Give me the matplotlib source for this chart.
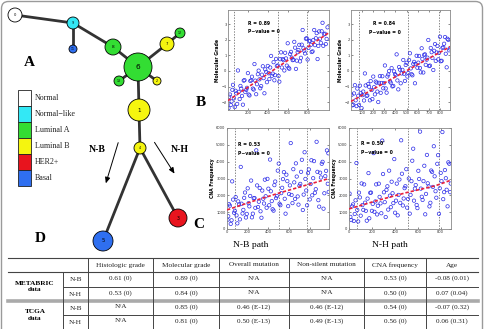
import numpy as np
import matplotlib.pyplot as plt
from matplotlib.patches import Circle, Rectangle, FancyBboxPatch

# ---- data ----
subtypes = ["Normal", "Normal\u2212like", "Luminal A", "Luminal B", "HER2+", "Basal"]
subtype_colors = ["#ffffff", "#33e8f5", "#33dd33", "#f5f50f", "#e8141e", "#2f6ff0"]

# panel B left (N-B path, molecular grade)
bl_x = [5, 20, 36, 50, 68, 84, 100, 117, 133, 150, 166, 183, 200, 216, 233, 250, 266, 283, 300, 316,
        333, 350, 366, 383, 400, 416, 433, 450, 466, 483, 500, 516, 533, 550, 566, 583, 600, 616, 633, 650,
        666, 683, 700, 716, 733, 750, 766, 783, 800, 816, 833, 850, 866, 883, 900, 916, 933, 950, 966, 983, 1000,
        12, 28, 44, 59, 76, 92, 108, 125, 141, 158, 174, 191, 208, 224, 241, 258, 274, 291, 308, 324,
        341, 358, 374, 391, 408, 424, 441, 458, 474, 491, 508, 524, 541, 558, 574, 591, 608, 624, 641, 658,
        674, 691, 708, 724, 741, 758, 774, 791, 808, 824, 841, 858, 874, 891, 908, 924, 941, 958, 974, 991]
bl_y = [-2.38, -1.51, -1.95, -0.89, -2.31, -1.44, 0.03, -1.80, -1.13, -2.16, -0.59, -1.21, -0.14, -1.57, -0.60,
        -1.13, 0.44, -1.49, -0.21, -0.54, -0.97, 0.30, -1.43, -0.06, 0.32, -0.52, 0.96, -0.17, -0.60, 0.77,
        0.35, -0.69, 1.19, 0.76, 0.03, 0.80, 1.77, 0.14, 1.22, 0.69, 1.86, 0.13, 1.20, 1.67, 0.84, 2.62,
        1.29, 2.06, 0.73, 1.90, 1.67, 1.25, 2.62, 2.09, 0.76, 2.53, 1.80, 3.08, 2.34, 1.72, 2.79,
        -1.65, -2.18, -1.21, -1.75, -1.27, -2.11, -1.34, -0.96, -1.60, -0.62, -1.35, -1.08, -1.51, -0.64,
        -0.37, -1.19, -0.62, -0.85, 0.02, -1.11, -0.24, -0.46, 0.10, -0.72, -0.15, 0.22, -0.31, 0.56, -0.27,
        0.31, -0.32, 0.75, 0.22, 0.69, 1.16, 0.34, 0.21, 1.08, 0.85, 0.72, 1.49, 0.66, 1.34, 0.61, 1.68,
        1.45, 1.12, 2.09, 1.47, 1.93, 1.21, 1.98, 1.65, 2.42, 1.60, 2.06, 2.54, 1.61, 2.38, 2.05]
bl_fit_x = [0, 1015]
bl_fit_y = [-1.9, 2.45]

# panel B right (N-H path, molecular grade)
br_x = [5, 20, 35, 50, 65, 80, 95, 110, 125, 140, 155, 170, 185, 200, 215, 230, 245, 260, 275, 290,
        305, 320, 335, 350, 365, 380, 395, 410, 425, 440, 455, 470, 485, 500, 515, 530, 545, 560, 575, 590,
        605, 620, 635, 650, 665, 680, 695, 710, 725, 740, 755, 770, 785, 800, 815, 830, 845, 860, 875, 888,
        12, 27, 42, 57, 72, 87, 102, 117, 132, 147, 162, 177, 192, 207, 222, 237, 252, 267, 282, 297,
        312, 327, 342, 357, 372, 387, 402, 417, 432, 447, 462, 477, 492, 507, 522, 537, 552, 567, 582, 597,
        612, 627, 642, 657, 672, 687, 702, 717, 732, 747, 762, 777, 792, 807, 822, 837, 852, 867, 882]
br_y = [-1.53, -2.17, -0.91, -2.25, -1.59, -0.94, -2.38, -1.32, -0.16, -1.60, -0.84, -1.88, -1.22, -0.36, -1.50,
        -0.75, -1.99, -0.33, -0.77, -1.11, 0.35, -1.39, -0.23, -0.67, 0.18, -0.96, -0.20, 1.06, -1.18, 0.08,
        -0.16, 0.70, -0.64, 0.52, -0.13, 1.13, -0.21, 0.45, -0.79, 0.97, 0.53, 0.19, 1.45, -0.10, 1.06,
        0.72, 1.98, 0.34, 1.20, 0.06, 1.72, 1.18, 0.74, 2.19, 0.65, 1.51, 2.17, 0.23, 1.99, 1.44,
        -2.20, -1.44, -1.88, -1.13, -2.17, -1.41, -1.55, -1.89, -0.93, -1.57, -1.01, -0.65, -1.80, -1.04,
        -0.68, -1.32, -0.76, -1.40, -0.34, -0.78, -1.12, -0.36, -0.01, -0.75, -0.99, -0.03, -0.27, -0.61,
        0.25, -0.79, 0.07, -0.18, 0.38, -0.36, 0.70, 0.16, -0.28, 0.58, 0.44, 0.20, 0.96, -0.09, 0.77,
        1.03, 0.39, 0.85, 0.31, 1.47, 0.83, 1.29, 0.64, 1.60, 1.16, 0.62, 1.48, 1.74, 1.10, 2.06, 1.32]
br_fit_x = [0, 890]
br_fit_y = [-1.95, 1.55]

# panel C left (N-B path, CNA frequency)
cl_x = [5, 20, 36, 50, 68, 84, 100, 117, 133, 150, 166, 183, 200, 216, 233, 250, 266, 283, 300, 316,
        333, 350, 366, 383, 400, 416, 433, 450, 466, 483, 500, 516, 533, 550, 566, 583, 600, 616, 633, 650,
        666, 683, 700, 716, 733, 750, 766, 783, 800, 816, 833, 850, 866, 883, 900, 916, 933, 950, 966, 983,
        12, 28, 44, 59, 76, 92, 108, 125, 141, 158, 174, 191, 208, 224, 241, 258, 274, 291, 308, 324,
        341, 358, 374, 391, 408, 424, 441, 458, 474, 491, 508, 524, 541, 558, 574, 591, 608, 624, 641, 658,
        674, 691, 708, 724, 741, 758, 774, 791, 808, 824, 841, 858, 874, 891, 908, 924, 941, 958, 974, 980]
cl_y = [545, 1473, 303, 2830, 964, 1895, 335, 1457, 3688, 920, 1850, 683, 2415, 1345, 2878, 910, 1840, 4673,
        1305, 2435, 668, 1800, 2930, 1263, 2395, 4125, 1658, 1090, 2820, 1953, 3885, 1415, 2448, 3380, 910,
        2843, 2075, 5105, 1538, 2770, 3900, 1933, 2565, 3395, 1128, 4560, 2290, 3323, 1755, 4085, 3018, 2150,
        5180, 1713, 3345, 3875, 1208, 3140, 4670, 2203,
        758, 1388, 519, 1747, 1079, 810, 1640, 573, 1503, 1135, 2166, 898, 1530, 1961, 693, 1825, 1256, 2588,
        1620, 1051, 2283, 1515, 1946, 2978, 1410, 2241, 1173, 2605, 1836, 3468, 1500, 2131, 2963, 1795, 3226,
        1358, 2590, 2021, 3553, 1785, 3116, 1448, 2680, 4111, 2043, 2975, 1406, 3538, 2670, 2001, 4033, 2365,
        3396, 1328, 3060, 3991, 2123, 3455, 2686, 4497]
cl_fit_x = [0, 250, 500, 750, 986]
cl_fit_y = [1135, 1650, 2130, 2580, 3000]

# panel C right (N-H path, CNA frequency)
cr_x = br_x
cr_y = [2105, 533, 1462, 891, 3920, 449, 1877, 2706, 1135, 1564, 493, 3321, 2150, 1079, 4508, 1637, 865, 2694,
        1523, 5252, 2181, 709, 2538, 3467, 1296, 2125, 4153, 1682, 811, 2940, 5269, 1397, 2426, 3555, 1784,
        913, 2841, 4770, 2399, 1428, 3457, 5785, 1914, 2843, 872, 4401, 2529, 1558, 3387, 4916, 2245, 3873,
        902, 3331, 5760, 2189, 3017, 1346, 3875, 2700,
        718, 1347, 476, 1704, 1133, 2162, 791, 1420, 2648, 1077, 1806, 635, 2164, 1492, 1021, 2650, 1379, 1908,
        936, 3265, 1594, 2323, 1152, 1980, 2809, 1538, 967, 2696, 2024, 1553, 3282, 1811, 2540, 1268, 2997,
        2026, 4055, 1684, 2612, 1241, 2970, 2399, 1728, 3756, 2085, 2714, 1343, 3472, 2500, 3129, 1858, 4387,
        2416, 2844, 1773, 3502, 2331, 3960, 2188]
cr_fit_x = [0, 250, 500, 750, 890]
cr_fit_y = [1195, 1700, 2160, 2560, 2900]

# table D
col_headers = ["Histologic grade", "Molecular grade", "Overall mutation",
               "Non-silent mutation", "CNA frequency", "Age"]
datasets = ["METABRIC\ndata", "TCGA\ndata"]
paths = ["N-B", "N-H"]
table_rows = [
    ["0.61 (0)", "0.89 (0)", "N/A", "N/A", "0.53 (0)", "-0.08 (0.01)"],
    ["0.53 (0)", "0.84 (0)", "N/A", "N/A", "0.50 (0)", "0.07 (0.04)"],
    ["N/A", "0.85 (0)", "0.46 (E-12)", "0.46 (E-12)", "0.54 (0)", "-0.07 (0.32)"],
    ["N/A", "0.81 (0)", "0.50 (E-13)", "0.49 (E-13)", "0.56 (0)", "0.06 (0.31)"],
]

# tree: node -> (x, y, radius, subtype index) in pixel layout
nodes = {
    0: (15, 15, 7, 0), 9: (73, 23, 6, 1), 11: (73, 49, 4, 5), 8: (113, 47, 8, 2),
    6: (138, 67, 14, 2), 7: (167, 44, 7, 3), 12: (180, 33, 5, 2), 13: (119, 81, 5, 2),
    2: (157, 81, 4, 3), 1: (139, 110, 11, 3), 4: (140, 148, 6, 3), 3: (178, 218, 9, 4),
    5: (103, 241, 10, 5),
}
edges = [(0, 9), (9, 11), (9, 8), (8, 6), (6, 7), (7, 12), (6, 13), (6, 2), (6, 1),
         (1, 4), (4, 3), (4, 5)]

serif = "Liberation Serif"
W, H = 484, 329
fig = plt.figure(figsize=(4.84, 3.29), dpi=100)
ax = fig.add_axes([0, 0, 1, 1])
ax.set_xlim(0, W)
ax.set_ylim(H, 0)
ax.axis("off")

ax.add_patch(FancyBboxPatch((1.5, 1.5), W - 3, H + 20, boxstyle="round,pad=0,rounding_size=7",
                            fc="none", ec="#9a9a9a", lw=1.0))

# tree
for a, b in edges:
    ax.plot([nodes[a][0], nodes[b][0]], [nodes[a][1], nodes[b][1]], color="#333333", lw=2.0, zorder=1)
for k, (x, y, r, c) in nodes.items():
    ax.add_patch(Circle((x, y), r, fc=subtype_colors[c], ec="black", lw=0.6, zorder=2))
    ax.text(x, y, str(k), ha="center", va="center", fontsize=max(2.3, r * 0.38), zorder=3)

ax.annotate("", xy=(105, 186), xytext=(119, 140),
            arrowprops=dict(arrowstyle="-|>,head_length=0.35,head_width=0.15", lw=0.7, color="black"))
ax.annotate("", xy=(176, 176), xytext=(153, 140),
            arrowprops=dict(arrowstyle="-|>,head_length=0.35,head_width=0.15", lw=0.7, color="black"))
ax.text(97, 149, "N-B", fontsize=7, fontweight="bold", family=serif, ha="center", va="center")
ax.text(180, 150, "N-H", fontsize=7, fontweight="bold", family=serif, ha="center", va="center")

# legend
for i, (name, col) in enumerate(zip(subtypes, subtype_colors)):
    ax.add_patch(Rectangle((18, 90 + 16 * i), 13, 16, fc=col, ec="#222222", lw=0.6))
    ax.text(35, 98 + 16 * i, name, fontsize=5.8, family=serif, va="center", color="#222222")

# panel letters
for letter, (x, y) in {"A": (29, 62), "B": (201, 103), "C": (199, 225), "D": (40, 239)}.items():
    ax.text(x, y, letter, fontsize=11, fontweight="bold", family=serif, ha="center", va="center")

ax.text(251, 245, "N-B path", fontsize=6.8, family=serif, ha="center", va="center")
ax.text(390, 245, "N-H path", fontsize=6.8, family=serif, ha="center", va="center")


def px_rect(x0, y0, x1, y1):
    return [x0 / W, 1 - y1 / H, (x1 - x0) / W, (y1 - y0) / H]


def scatter_panel(rect, xs, ys, fx, fy, xlim, ylim, xticks, yticks, vlines, ylabel, rtxt, tpos):
    a = fig.add_axes(rect)
    a.scatter(xs, ys, s=6, facecolors="none", edgecolors="#2b2be8", linewidths=0.5, zorder=2)
    a.plot(fx, fy, color="#e8203c", ls="--", lw=1.2, dashes=(2, 1.2), zorder=3)
    for v in vlines:
        a.axvline(v, color="#555555", lw=0.5, dashes=(2, 2), zorder=1)
    a.set_xlim(*xlim)
    a.set_ylim(*ylim)
    a.set_xticks(xticks)
    a.set_yticks(yticks)
    a.tick_params(direction="in", length=1.5, width=0.4, labelsize=2.6, pad=1,
                  top=True, right=True, colors="#333333")
    for s in a.spines.values():
        s.set_color("#888888")
        s.set_linewidth(0.6)
    a.set_ylabel(ylabel, fontsize=3.3, fontweight="bold", labelpad=1)
    a.text(tpos[0], tpos[1], rtxt[0], fontsize=3.3, fontweight="bold", transform=a.transAxes)
    a.text(tpos[2], tpos[3], rtxt[1], fontsize=3.3, fontweight="bold", transform=a.transAxes)
    return a


scatter_panel(px_rect(228, 10, 329, 110), bl_x, bl_y, bl_fit_x, bl_fit_y, (0, 1015), (-2.5, 3.9),
              [200, 400, 600, 800], [-2, -1, 0, 1, 2, 3], [60, 505, 795], "Molecular Grade",
              ("R = 0.89", "P\u2212value = 0"), (0.2, 0.85, 0.2, 0.77))
scatter_panel(px_rect(351, 10, 450, 110), br_x, br_y, br_fit_x, br_fit_y, (0, 890), (-2.5, 3.9),
              [100, 200, 300, 400, 500, 600, 700, 800], [-2, -1, 0, 1, 2, 3], [76, 511, 791],
              "Molecular Grade", ("R = 0.84", "P\u2212value = 0"), (0.22, 0.85, 0.18, 0.76))
scatter_panel(px_rect(227, 128, 329, 229), cl_x, cl_y, cl_fit_x, cl_fit_y, (0, 986), (0, 6000),
              [0, 200, 400, 600, 800], [0, 1000, 2000, 3000, 4000, 5000, 6000], [75, 500, 775],
              "CNA Frequency", ("R = 0.53", "P\u2212value = 0"), (0.11, 0.82, 0.11, 0.73))
scatter_panel(px_rect(349, 128, 451, 229), cr_x, cr_y, cr_fit_x, cr_fit_y, (0, 890), (0, 6000),
              [0, 200, 400, 600, 800], [0, 1000, 2000, 3000, 4000, 5000, 6000], [67, 511, 785],
              "CNA Frequency", ("R = 0.50'", "P\u2212value = 0"), (0.12, 0.83, 0.12, 0.74))

# table
cb = [8, 63, 88, 153, 219, 289, 364, 426, 478]
rb = [258, 272, 287, 301, 315, 329]
lc = "#444444"
ax.plot([cb[0], cb[-1]], [rb[0], rb[0]], color=lc, lw=0.8)
ax.plot([cb[0], cb[-1]], [rb[1], rb[1]], color=lc, lw=0.8)
ax.plot([cb[1], cb[-1]], [rb[2], rb[2]], color=lc, lw=0.7)
ax.plot([cb[0], cb[-1]], [rb[3], rb[3]], color="#aaaaaa", lw=2.6)
ax.plot([cb[1], cb[-1]], [rb[4], rb[4]], color=lc, lw=0.7)
ax.plot([cb[1], cb[1]], [rb[1], H], color=lc, lw=0.7)
for x in cb[2:-1]:
    ax.plot([x, x], [rb[0], H], color=lc, lw=0.7)

for j, h in enumerate(col_headers):
    ax.text((cb[j + 2] + cb[j + 3]) / 2, 265, h, fontsize=5.2, family=serif,
            ha="center", va="center", color="#222222")
for d, name in enumerate(datasets):
    ax.text(35, (rb[1 + 2 * d] + rb[3 + 2 * d]) / 2, name, fontsize=5.2, family=serif,
            fontweight="bold", ha="center", va="center", linespacing=1.4)
for i, row in enumerate(table_rows):
    yc = (rb[i + 1] + rb[i + 2]) / 2
    ax.text(75.5, yc, paths[i % 2], fontsize=5.2, family=serif, ha="center", va="center", color="#222222")
    for j, v in enumerate(row):
        ax.text((cb[j + 2] + cb[j + 3]) / 2, yc - 1, v, fontsize=5.2, family=serif,
                ha="center", va="center", color="#222222")

fig.savefig("out.png", dpi=100)
